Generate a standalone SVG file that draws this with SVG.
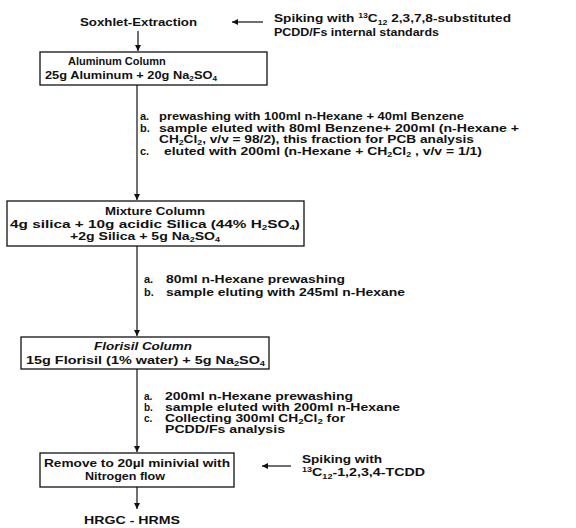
<svg xmlns="http://www.w3.org/2000/svg" width="576" height="528" viewBox="0 0 576 528">
<style>
text{font-family:"Liberation Sans",Arial,sans-serif;font-size:11px;font-weight:bold;fill:#111}
.s{font-size:10px}
.box{fill:#fff;stroke:#111;stroke-width:1.3}
.ln{stroke:#111;stroke-width:1.2;fill:none}
.sub{font-size:7px}
.it{font-style:italic}
</style>
<defs>
<marker id="ah" markerWidth="8" markerHeight="8" refX="6" refY="3" orient="auto" markerUnits="userSpaceOnUse">
<path d="M0,0 L6,3 L0,6 Z" fill="#111"/>
</marker>
</defs>
<rect width="576" height="528" fill="#fff"/>
<g id="connectors">
<line class="ln" x1="138" y1="31" x2="138" y2="51" marker-end="url(#ah)"/>
<line class="ln" x1="263" y1="22" x2="232" y2="22" marker-end="url(#ah)"/>
<line class="ln" x1="137" y1="85" x2="137" y2="200" marker-end="url(#ah)"/>
<line class="ln" x1="137" y1="246" x2="137" y2="336" marker-end="url(#ah)"/>
<line class="ln" x1="137" y1="369" x2="137" y2="452" marker-end="url(#ah)"/>
<line class="ln" x1="291" y1="466" x2="262" y2="466" marker-end="url(#ah)"/>
<line class="ln" x1="137" y1="487" x2="137" y2="509" marker-end="url(#ah)"/>
</g>
<g id="soxhlet">
<text x="80" y="26" textLength="117" lengthAdjust="spacingAndGlyphs">Soxhlet-Extraction</text>
</g>
<g id="spike1">
<text x="274" y="22" textLength="237" lengthAdjust="spacingAndGlyphs">Spiking with <tspan class="sub" dy="-4">13</tspan><tspan dy="4">C</tspan><tspan class="sub" dy="3">12</tspan><tspan dy="-3"> 2,3,7,8-substituted</tspan></text>
<text x="274" y="36" textLength="165" lengthAdjust="spacingAndGlyphs">PCDD/Fs internal standards</text>
</g>
<g id="aluminum">
<rect class="box" x="40" y="52" width="227" height="33"/>
<text x="68" y="65">Aluminum Column</text>
<text x="45" y="79" textLength="172" lengthAdjust="spacingAndGlyphs">25g Aluminum + 20g Na<tspan class="sub" dy="2">2</tspan><tspan dy="-2">SO</tspan><tspan class="sub" dy="2">4</tspan></text>
</g>
<g id="steps1">
<text x="140" y="120">a.</text><text x="159" y="120" textLength="305" lengthAdjust="spacingAndGlyphs">prewashing with 100ml n-Hexane + 40ml Benzene</text>
<text x="140" y="132">b.</text><text x="159" y="132" textLength="360" lengthAdjust="spacingAndGlyphs">sample eluted with 80ml Benzene+ 200ml (n-Hexane +</text>
<text x="159" y="143" textLength="315" lengthAdjust="spacingAndGlyphs">CH<tspan class="sub" dy="2">2</tspan><tspan dy="-2">Cl</tspan><tspan class="sub" dy="2">2</tspan><tspan dy="-2">, v/v = 98/2), this fraction for PCB analysis</tspan></text>
<text x="140" y="155">c.</text><text x="164" y="155" textLength="318" lengthAdjust="spacingAndGlyphs">eluted with  200ml (n-Hexane + CH<tspan class="sub" dy="2">2</tspan><tspan dy="-2">Cl</tspan><tspan class="sub" dy="2">2</tspan><tspan dy="-2"> , v/v = 1/1)</tspan></text>
</g>
<g id="mixture">
<rect class="box" x="7" y="201" width="297" height="45"/>
<text x="105" y="215" textLength="100" lengthAdjust="spacingAndGlyphs">Mixture Column</text>
<text x="10" y="228" textLength="290" lengthAdjust="spacingAndGlyphs">4g silica + 10g acidic Silica (44% H<tspan class="sub" dy="2">2</tspan><tspan dy="-2">SO</tspan><tspan class="sub" dy="2">4</tspan><tspan dy="-2">)</tspan></text>
<text x="70" y="240" textLength="150" lengthAdjust="spacingAndGlyphs">+2g Silica + 5g Na<tspan class="sub" dy="2">2</tspan><tspan dy="-2">SO</tspan><tspan class="sub" dy="2">4</tspan></text>
</g>
<g id="steps2">
<text x="144" y="283">a.</text><text x="166" y="283" textLength="179" lengthAdjust="spacingAndGlyphs">80ml n-Hexane prewashing</text>
<text x="144" y="296">b.</text><text x="166" y="296" textLength="239" lengthAdjust="spacingAndGlyphs">sample eluting with 245ml n-Hexane</text>
</g>
<g id="florisil">
<rect class="box" x="21" y="337" width="248" height="32"/>
<text class="it" x="94" y="350" textLength="98" lengthAdjust="spacingAndGlyphs">Florisil Column</text>
<text x="26" y="364" textLength="239" lengthAdjust="spacingAndGlyphs">15g Florisil (1% water) + 5g Na<tspan class="sub" dy="2">2</tspan><tspan dy="-2">SO</tspan><tspan class="sub" dy="2">4</tspan></text>
</g>
<g id="steps3">
<text class="s" x="144" y="400">a.</text><text class="s" x="165" y="400" textLength="188" lengthAdjust="spacingAndGlyphs">200ml n-Hexane prewashing</text>
<text class="s" x="144" y="411">b.</text><text class="s" x="165" y="411" textLength="235" lengthAdjust="spacingAndGlyphs">sample eluted with 200ml n-Hexane</text>
<text class="s" x="144" y="422">c.</text><text class="s" x="165" y="422" textLength="180" lengthAdjust="spacingAndGlyphs">Collecting 300ml CH<tspan class="sub" dy="1.5">2</tspan><tspan dy="-1.5">Cl</tspan><tspan class="sub" dy="1.5">2</tspan><tspan dy="-1.5"> for</tspan></text>
<text class="s" x="165" y="433" textLength="120" lengthAdjust="spacingAndGlyphs">PCDD/Fs analysis</text>
</g>
<g id="remove">
<rect class="box" x="40" y="453" width="194" height="34"/>
<text x="44" y="467" textLength="186" lengthAdjust="spacingAndGlyphs">Remove to 20µl minivial with</text>
<text x="85" y="480" textLength="80" lengthAdjust="spacingAndGlyphs">Nitrogen flow</text>
</g>
<g id="spike2">
<text x="302" y="463" textLength="80" lengthAdjust="spacingAndGlyphs">Spiking with</text>
<text x="302" y="476" textLength="123" lengthAdjust="spacingAndGlyphs"><tspan class="sub" dy="-4">13</tspan><tspan dy="4">C</tspan><tspan class="sub" dy="3">12</tspan><tspan dy="-3">-1,2,3,4-TCDD</tspan></text>
</g>
<g id="hrgc">
<text x="84" y="524" textLength="96" lengthAdjust="spacingAndGlyphs">HRGC - HRMS</text>
</g>
</svg>
